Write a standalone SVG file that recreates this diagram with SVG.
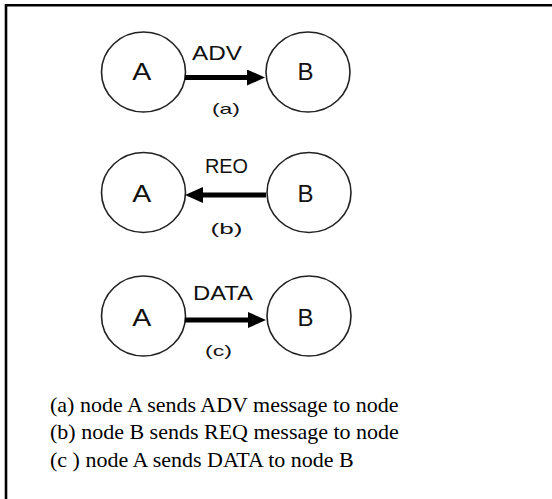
<svg xmlns="http://www.w3.org/2000/svg" width="552" height="499" viewBox="0 0 552 499">
  <style>
    .node { fill: #fff; stroke: #222; stroke-width: 1.6; }
    .nlabel { font-family: "Liberation Sans", Arial, sans-serif; font-size: 24px; fill: #111; text-anchor: middle; }
    .elabel { font-family: "Liberation Sans", Arial, sans-serif; font-size: 20px; fill: #111; text-anchor: middle; }
    .sub { font-family: "Liberation Sans", Arial, sans-serif; font-size: 15px; fill: #111; text-anchor: middle; }
    .edge { stroke: #000; stroke-width: 5; fill: none; marker-end: url(#head); }
    .caption { font-family: "Liberation Serif", "Times New Roman", serif; font-size: 22px; fill: #000; }
  </style>
  <defs>
    <marker id="head" viewBox="0 0 18 16" refX="3" refY="8" markerWidth="18" markerHeight="16" markerUnits="userSpaceOnUse" orient="auto">
      <path d="M0,0 L18,8 L0,16 z" fill="#000"/>
    </marker>
  </defs>

  <rect width="552" height="499" fill="#fff"/>

  <!-- frame: top and left rules -->
  <path d="M6,499 V5.3 H553" fill="none" stroke="#000" stroke-width="2.6"/>

  <!-- row (a) -->
  <g id="a-A"><ellipse class="node" cx="143.5" cy="72" rx="42" ry="40"/><text class="nlabel" x="141.7" y="80" textLength="19" lengthAdjust="spacingAndGlyphs">A</text></g>
  <g id="a-B"><ellipse class="node" cx="308" cy="72" rx="42" ry="40"/><text class="nlabel" x="305.5" y="80">B</text></g>

  <!-- row (b) -->
  <g id="b-A"><ellipse class="node" cx="143.5" cy="192.5" rx="42" ry="40"/><text class="nlabel" x="141.7" y="201.5" textLength="19" lengthAdjust="spacingAndGlyphs">A</text></g>
  <g id="b-B"><ellipse class="node" cx="309" cy="192.5" rx="42" ry="40"/><text class="nlabel" x="305.5" y="201.5">B</text></g>

  <!-- row (c) -->
  <g id="c-A"><ellipse class="node" cx="143.5" cy="316" rx="42" ry="40"/><text class="nlabel" x="141.7" y="326" textLength="19" lengthAdjust="spacingAndGlyphs">A</text></g>
  <g id="c-B"><ellipse class="node" cx="309" cy="316" rx="42" ry="40"/><text class="nlabel" x="305.5" y="326">B</text></g>

  <!-- messages -->
  <g id="connectors">
    <line class="edge" x1="185" y1="77.5" x2="250" y2="77.5"/>
    <line class="edge" x1="266" y1="195" x2="200" y2="195"/>
    <line class="edge" x1="185" y1="320" x2="251" y2="320"/>
    <text class="elabel" x="217" y="60" textLength="50" lengthAdjust="spacingAndGlyphs">ADV</text>
    <text class="elabel" x="226.5" y="173" textLength="43" lengthAdjust="spacingAndGlyphs">REO</text>
    <text class="elabel" x="223" y="300" textLength="60" lengthAdjust="spacingAndGlyphs">DATA</text>
    <text class="sub" x="226" y="114" textLength="28" lengthAdjust="spacingAndGlyphs">(a)</text>
    <text class="sub" x="226.5" y="234" textLength="32" lengthAdjust="spacingAndGlyphs">(b)</text>
    <text class="sub" x="218.5" y="356" textLength="27" lengthAdjust="spacingAndGlyphs">(c)</text>
  </g>

  <!-- legend -->
  <text class="caption" x="50" y="412">(a) node A sends ADV message to node</text>
  <text class="caption" x="50" y="439">(b) node B sends REQ message to node</text>
  <text class="caption" x="50" y="467">(c ) node A sends DATA to node B</text>
</svg>
